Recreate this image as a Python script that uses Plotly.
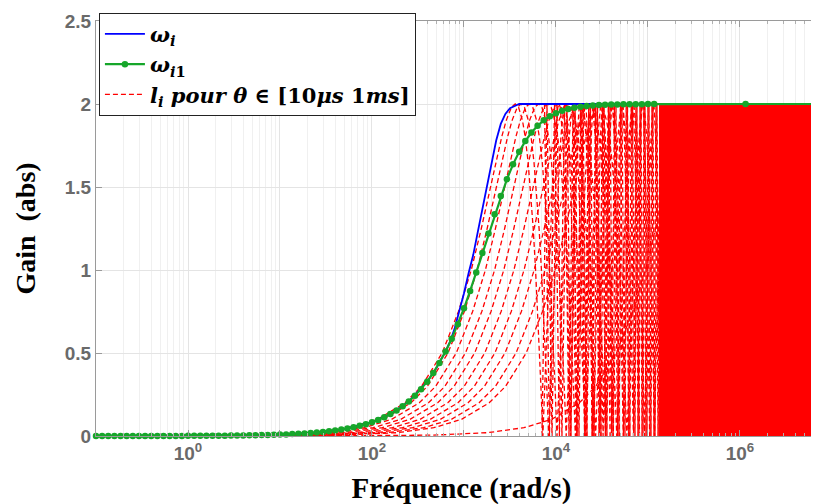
import plotly.graph_objects as go

# ---------------- data ----------------
# omega_i1 (green, markers) : frequency (rad/s) and gain (abs)
green_freq = [0.1, 0.1166, 0.1359, 0.1585, 0.1848, 0.2154, 0.2512, 0.2929, 0.3415, 0.3981, 0.4642, 0.5412, 0.631, 0.7356, 0.8577,
              1.0, 1.166, 1.359, 1.585, 1.848, 2.154, 2.512, 2.929, 3.415, 3.981, 4.642, 5.412, 6.31, 7.356, 8.577,
              10.0, 11.66, 13.59, 15.85, 18.48, 21.54, 25.12, 29.29, 34.15, 39.81, 46.42, 54.12, 63.1, 73.56, 85.77,
              100, 116.6, 135.9, 158.5, 184.8, 215.4, 251.2, 292.9, 341.5, 398.1, 464.2, 541.2, 631, 735.6, 857.7,
              1000, 1166, 1359, 1585, 1848, 2154, 2512, 2929, 3415, 3981, 4642, 5412, 6310, 7356, 8577,
              10000, 11660, 13590, 15850, 18480, 21540, 25120, 29290, 34150, 39810, 46420, 54120, 63100, 73560, 85770,
              100000, 116600, 1150000, 10000000]
green_gain = [0.0001, 0.0001, 0.0001, 0.0001, 0.0002, 0.0002, 0.0002, 0.0002, 0.0003, 0.0003, 0.0004, 0.0005, 0.0005, 0.0006, 0.0007,
              0.0008, 0.0010, 0.0011, 0.0013, 0.0015, 0.0018, 0.0021, 0.0024, 0.0028, 0.0033, 0.0039, 0.0045, 0.0053, 0.0061, 0.0071,
              0.0083, 0.0097, 0.0113, 0.0132, 0.0154, 0.0180, 0.0209, 0.0244, 0.0285, 0.0332, 0.0387, 0.0451, 0.0526, 0.0613, 0.0714,
              0.0832, 0.0970, 0.1131, 0.1318, 0.1535, 0.1788, 0.2082, 0.2423, 0.2817, 0.3273, 0.3798, 0.4400, 0.5085, 0.5861, 0.6731,
              0.7692, 0.8739, 0.9856, 1.1021, 1.2202, 1.3358, 1.4461, 1.5470, 1.6364, 1.7128, 1.7766, 1.8283, 1.8694, 1.9014, 1.9260,
              1.9448, 1.9589, 1.9697, 1.9775, 1.9833, 1.9876, 1.9909, 1.9933, 1.9951, 1.9964, 1.9973, 1.9980, 1.9986, 1.9989, 1.9992,
              1.9994, 1.9996, 2.0, 2.0]

# omega_i (blue line)
blue_freq = [0.1, 1, 3.981, 10, 25.12, 46.42, 100, 158.5, 251.2, 398.1, 501.2, 631, 708, 794.3, 891.3, 1000, 1122, 1259,
             1413, 1585, 1778, 1995, 2239, 2512, 2818, 3162, 3548, 3981, 10000000]
blue_gain = [0.0001, 0.0008, 0.0033, 0.0083, 0.0209, 0.0387, 0.0832, 0.1318, 0.2082, 0.3273, 0.41, 0.51, 0.57, 0.65, 0.75,
             0.86, 0.98, 1.09, 1.23, 1.37, 1.50, 1.64, 1.78, 1.88, 1.94, 1.975, 1.99, 2.0, 2.0]

# l_i curves (red dashed): arch shape (frequency relative to the first arch peak, gain)
red_shape_ratio = [0.00003, 0.0003, 0.0016, 0.0064, 0.0159, 0.0318, 0.0637, 0.0962, 0.1608, 0.242, 0.3333, 0.4286,
                   0.540, 0.617, 0.713, 0.798, 0.910, 1.0, 1.090, 1.202, 1.287, 1.383, 1.5714, 1.667, 1.758, 1.839, 1.904, 2.0,
                   2.16, 2.333, 2.54, 2.713, 2.91, 3.0, 3.09, 3.287, 3.46, 3.667, 3.839, 4.0,
                   4.16, 4.333, 4.54, 4.713, 4.91, 5.0, 5.09, 5.287, 5.46, 5.667, 5.839, 6.0]
red_shape_gain = [0.0, 0.001, 0.005, 0.02, 0.05, 0.1, 0.2, 0.3, 0.5, 0.75, 1.0, 1.25,
                  1.5, 1.65, 1.8, 1.9, 1.98, 2.0, 1.98, 1.9, 1.8, 1.65, 1.25, 1.0, 0.75, 0.5, 0.3, 0.0,
                  0.5, 1.0, 1.5, 1.8, 1.98, 2.0, 1.98, 1.8, 1.5, 1.0, 0.5, 0.0,
                  0.5, 1.0, 1.5, 1.8, 1.98, 2.0, 1.98, 1.8, 1.5, 1.0, 0.5, 0.0]
# peak frequency of the first arch of each l_i curve (rad/s)
red_peak_freq = [3600, 4169, 5129, 6457, 8128, 10470, 13490, 17380, 22910, 29510, 281800]

# dense oscillation zone of the l_i curves: turning points between 0 and 2
red_osc_freq = [7047, 7980, 9057, 10250, 11610, 13180, 14550, 16110, 17780, 19630, 21730, 23710, 25880, 28250,
                30830, 33270, 35810, 38640, 41690, 44870, 48420, 52120, 56230, 59840, 63680, 67920, 72280, 75860,
                79800, 83950, 88310, 92680, 97500, 102600, 107900, 113200, 119100, 125300, 131800, 138400]
red_osc_gain = [0, 2, 0, 2, 0, 2, 0, 2, 0, 2, 0, 2, 0, 2, 0, 2, 0, 2, 0, 2,
                0, 2, 0, 2, 0, 2, 0, 2, 0, 2, 0, 2, 0, 2, 0, 2, 0, 2, 0, 2]
red_osc2_freq = [15300, 16900, 18700, 20700, 22700, 24800, 27000, 29500, 32000, 34500, 37200, 40100, 43200, 46600,
                 50200, 54100, 58000, 61700, 65800, 70000, 74000, 77800, 81900, 86100, 90500, 95000, 100000, 105200,
                 110500, 116100, 122200, 128500, 135000, 140000]
red_osc2_gain = [2, 0, 2, 0, 2, 0, 2, 0, 2, 0, 2, 0, 2, 0, 2, 0, 2,
                 0, 2, 0, 2, 0, 2, 0, 2, 0, 2, 0, 2, 0, 2, 0, 2, 0]
red_osc3_freq = [7500, 8500, 9640, 10900, 12380, 13850, 15330, 16930, 18680, 20650, 22700, 24770, 27040, 29510,
                 32030, 34520, 37200, 40150]
red_osc3_gain = [2, 0, 2, 0, 2, 0, 2, 0, 2, 0, 2, 0, 2, 0, 2, 0, 2, 0]
# fully saturated oscillation band
red_band_freq = [132000, 10000000]
red_band_gain = [2.0, 2.0]

x_tick_vals = [0.1, 1, 10, 100, 1000, 10000, 100000, 1000000]
x_tick_text = ['', '10<sup>0</sup>', '', '10<sup>2</sup>', '', '10<sup>4</sup>', '', '10<sup>6</sup>']
y_tick_vals = [0, 0.5, 1, 1.5, 2, 2.5]
y_tick_text = ['0', '0.5', '1', '1.5', '2', '2.5']

# ---------------- figure ----------------
RED = '#ff0000'
BLUE = '#0000ff'
GREEN = '#16a62a'
DASH = '5px,3px'

fig = go.Figure()

for i, pf in enumerate(red_peak_freq):
    fig.add_trace(go.Scatter(
        x=[pf * r for r in red_shape_ratio], y=red_shape_gain, mode='lines',
        line=dict(color=RED, width=1.3, dash=DASH),
        name='<b><i>l</i><sub><i>i</i></sub> <i>pour θ</i> ∈ [10<i>μs</i> 1<i>ms</i>]</b>',
        legendgroup='red', showlegend=(i == 0), legendrank=3, hoverinfo='skip'))

for xs, ys in ((red_osc_freq, red_osc_gain), (red_osc2_freq, red_osc2_gain), (red_osc3_freq, red_osc3_gain)):
    fig.add_trace(go.Scatter(x=xs, y=ys, mode='lines',
                             line=dict(color=RED, width=1.3, dash=DASH),
                             legendgroup='red', showlegend=False, hoverinfo='skip'))
fig.add_trace(go.Scatter(x=red_band_freq, y=red_band_gain, mode='lines', fill='tozeroy',
                         fillcolor=RED, line=dict(color=RED, width=1),
                         legendgroup='red', showlegend=False, hoverinfo='skip'))

fig.add_trace(go.Scatter(x=blue_freq, y=blue_gain, mode='lines',
                         line=dict(color=BLUE, width=1.8),
                         name='<b><i>ω</i><sub><i>i</i></sub></b>', legendrank=1))
fig.add_trace(go.Scatter(x=green_freq, y=green_gain, mode='lines+markers',
                         line=dict(color=GREEN, width=2.2),
                         marker=dict(size=6.5, color=GREEN),
                         cliponaxis=False,
                         name='<b><i>ω</i><sub><i>i</i>1</sub></b>', legendrank=2))

tick_font = dict(family='Liberation Sans, Arial', size=19, color='#6a6a6a', weight='bold')
title_font = dict(family='Liberation Serif, Times New Roman', size=28, color='#000000')

fig.update_layout(
    width=819, height=504,
    margin=dict(l=88, r=0, t=13, b=76),
    paper_bgcolor='white', plot_bgcolor='white',
    showlegend=True,
    legend=dict(x=0.004, y=1.02, xanchor='left', yanchor='top',
                bgcolor='white', bordercolor='#222222', borderwidth=1,
                font=dict(family='DejaVu Serif', size=21, color='#000000'),
                itemwidth=40, tracegroupgap=0),
    xaxis=dict(type='log', range=[-1, 6.946],
               tickmode='array', tickvals=x_tick_vals, ticktext=x_tick_text,
               showgrid=True, gridcolor='#e4e4e4', gridwidth=1,
               showline=True, linecolor='#9a9a9a', linewidth=1, mirror='ticks',
               ticks='inside', ticklen=6, tickcolor='#9a9a9a',
               minor=dict(dtick='D1', showgrid=True, gridcolor='#f0f0f0', ticks='inside',
                          ticklen=3, tickcolor='#b0b0b0'),
               zeroline=False, tickfont=tick_font,
               title=dict(text='<b>Fréquence (rad/s)</b>', font=dict(family='Liberation Serif, Times New Roman', size=29, color='#000000'), standoff=14)),
    yaxis=dict(range=[0, 2.5], tickmode='array', tickvals=y_tick_vals, ticktext=y_tick_text,
               showgrid=True, gridcolor='#e4e4e4', gridwidth=1,
               showline=True, linecolor='#9a9a9a', linewidth=1,
               ticks='inside', ticklen=6, tickcolor='#9a9a9a',
               zeroline=False, tickfont=tick_font,
               title=dict(text='<b>Gain\u00a0 (abs)</b>', font=title_font, standoff=20)),
)

fig.write_html('out.html')
